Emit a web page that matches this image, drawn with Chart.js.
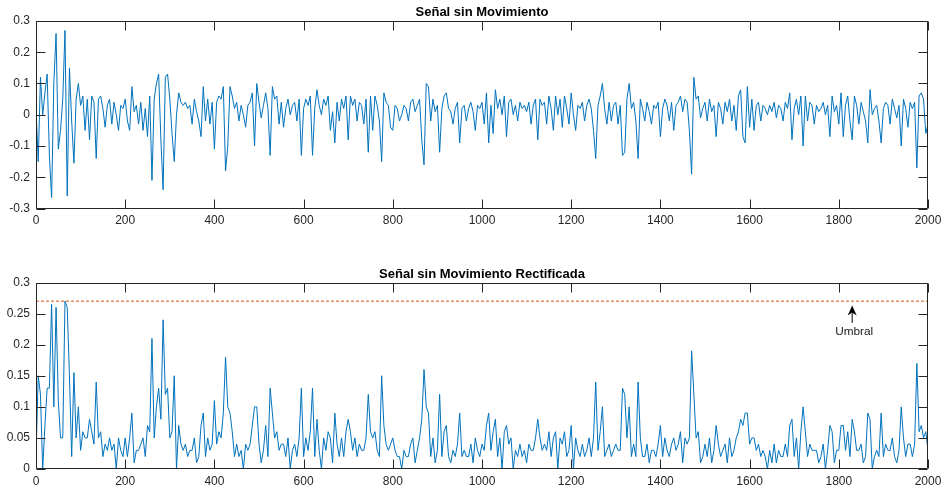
<!DOCTYPE html>
<html>
<head>
<meta charset="utf-8">
<script src="https://cdn.jsdelivr.net/npm/chart.js@4.4.1/dist/chart.umd.min.js"></script>
<style>
  html, body { margin: 0; padding: 0; background: #fff; }
  body { width: 948px; height: 495px; position: relative; overflow: hidden; }
  .panel { position: absolute; left: 0; width: 948px; }
  #arriba { top: 0; height: 234px; }
  #abajo { top: 245px; height: 250px; }
</style>
</head>
<body>
<div class="panel" id="arriba"><canvas id="senalChart"></canvas></div>
<div class="panel" id="abajo"><canvas id="rectChart"></canvas></div>
<script>
// señal, una muestra cada 5 (0..2000)
const paso = 5;
const senal = [
  0.02,-0.15,0.12,0.0,0.07,0.13,-0.13,-0.265,0.10,0.26,-0.11,-0.05,0.05,0.27,-0.26,0.15,-0.02,-0.155,0.05,0.10,
  0.03,0.06,-0.05,0.05,-0.08,0.06,0.04,-0.14,0.05,0.06,0.02,-0.04,0.03,0.05,-0.03,0.04,0.0,-0.05,0.03,0.02,
  0.05,-0.02,-0.05,0.09,0.01,0.03,-0.03,0.04,-0.05,0.02,-0.07,0.06,-0.21,0.05,0.10,0.13,-0.08,-0.24,0.12,0.13,
  0.05,-0.06,-0.15,0.0,0.07,0.04,0.03,0.04,0.02,0.03,-0.03,0.05,0.01,-0.02,-0.07,0.09,-0.02,0.05,-0.03,0.04,
  -0.11,0.04,0.06,0.05,0.09,-0.18,-0.10,0.09,0.06,0.02,0.04,-0.02,0.03,0.0,-0.04,0.03,0.04,0.07,-0.10,0.10,
  0.04,-0.01,0.03,0.07,0.02,-0.13,0.09,0.05,0.06,-0.03,0.04,-0.04,0.02,0.05,0.0,0.03,0.04,-0.02,0.05,-0.13,
  0.02,0.05,0.03,0.06,-0.13,0.02,0.08,0.03,0.0,0.05,0.03,0.06,-0.05,0.01,-0.09,0.04,-0.02,0.05,0.02,0.06,
  -0.08,0.06,0.03,0.05,-0.02,0.04,0.03,-0.03,0.05,-0.12,0.06,-0.05,0.06,0.03,-0.02,-0.15,0.07,0.04,0.03,-0.04,
  -0.05,0.03,0.02,-0.02,0.0,0.03,0.02,-0.02,0.04,0.05,0.01,0.03,0.05,-0.08,-0.16,0.10,0.09,-0.02,0.05,0.01,
  0.03,-0.12,0.02,0.06,0.07,0.02,0.01,-0.03,0.02,0.04,-0.09,0.02,0.03,-0.02,0.02,0.04,0.01,-0.05,0.03,0.02,
  0.04,-0.03,0.07,-0.09,0.03,-0.06,0.08,0.02,0.05,0.0,0.06,-0.07,0.04,0.05,0.0,0.03,-0.02,0.04,0.02,0.03,
  0.01,0.04,-0.03,0.03,0.05,-0.08,0.05,0.03,0.04,-0.03,0.06,0.02,-0.05,0.06,0.0,0.05,-0.04,0.06,0.02,-0.03,
  0.07,0.0,-0.05,0.03,0.02,0.04,-0.02,0.03,0.05,0.02,-0.05,-0.14,0.03,0.06,0.10,0.02,-0.03,0.04,-0.02,0.03,
  0.04,-0.03,0.03,-0.13,-0.12,0.05,0.10,0.02,0.04,-0.02,-0.14,0.05,0.02,-0.02,0.04,0.01,-0.03,0.03,0.02,0.04,
  -0.07,0.02,0.05,0.03,-0.02,0.04,-0.05,0.03,0.04,0.06,0.01,0.05,0.04,-0.05,-0.19,0.12,0.05,0.06,-0.01,0.02,
  0.04,-0.02,0.05,0.01,0.03,-0.07,0.04,0.02,-0.03,0.04,0.01,0.05,-0.02,0.03,-0.05,0.06,0.08,-0.07,-0.09,0.09,
  -0.04,0.05,-0.05,0.03,0.04,-0.02,0.03,0.02,0.0,0.03,0.01,0.04,-0.01,0.03,0.02,-0.02,0.04,0.02,0.07,-0.08,
  0.02,0.05,0.0,0.06,-0.10,0.06,-0.02,0.04,0.03,-0.03,0.03,0.01,0.02,0.04,0.0,0.03,-0.07,0.06,0.01,0.03,
  -0.03,0.07,-0.07,0.03,0.06,-0.02,-0.08,0.06,0.03,-0.03,0.04,0.01,-0.02,-0.09,0.08,0.0,0.02,0.03,-0.02,-0.09,
  0.02,0.04,0.03,-0.03,0.05,0.02,-0.01,0.03,-0.10,0.05,0.02,-0.04,0.04,0.02,0.04,-0.17,0.06,0.07,0.05,-0.06,-0.03
];
const rectificada = senal.map((v) => Math.abs(v));

const xTicks = [0, 200, 400, 600, 800, 1000, 1200, 1400, 1600, 1800, 2000];
const yTicksSenal = [-0.3, -0.2, -0.1, 0, 0.1, 0.2, 0.3];
const yTicksRect = [0, 0.05, 0.1, 0.15, 0.2, 0.25, 0.3];

const umbral = 0.27;
const flechaX = 1830;
const flechaPunta = 0.263;
const flechaBase = 0.235;
const textoY = 0.22;

const AZUL = "#0072BD";
const NARANJA = "#D95319";
const EJE = "#262626";
const FUENTE = "'Liberation Sans', Arial, Helvetica, sans-serif";

// caja tipo MATLAB con marcas hacia adentro, y el título centrado sobre el área
const cajaPlugin = {
  id: "caja",
  afterDatasetsDraw(chart) {
    const { ctx, chartArea: a, scales } = chart;
    const cfg = chart.options.plugins.caja;
    const l = Math.round(a.left) + 0.5, r = Math.round(a.right) - 0.5;
    const t = Math.round(a.top) + 0.5, b = Math.round(a.bottom) - 0.5;
    ctx.save();
    ctx.strokeStyle = EJE;
    ctx.lineWidth = 1;
    ctx.beginPath();
    ctx.rect(l, t, r - l, b - t);
    xTicks.forEach((v) => {
      const x = Math.round(scales.x.getPixelForValue(v)) + 0.5;
      ctx.moveTo(x, b); ctx.lineTo(x, b - 9);
      ctx.moveTo(x, t); ctx.lineTo(x, t + 9);
    });
    cfg.yTicks.forEach((v) => {
      const y = Math.round(scales.y.getPixelForValue(v)) + 0.5;
      ctx.moveTo(l, y); ctx.lineTo(l + 9, y);
      ctx.moveTo(r, y); ctx.lineTo(r - 9, y);
    });
    ctx.stroke();
    ctx.font = "bold 13px " + FUENTE;
    ctx.fillStyle = "#000";
    ctx.textAlign = "center";
    ctx.textBaseline = "middle";
    ctx.fillText(cfg.titulo, (a.left + a.right) / 2, a.top - 8.5);
    ctx.restore();
  },
};

// flecha y texto "Umbral"
const flechaPlugin = {
  id: "flecha",
  afterDatasetsDraw(chart) {
    if (!chart.options.plugins.flecha.mostrar) return;
    const { ctx, scales } = chart;
    const x = scales.x.getPixelForValue(flechaX);
    const yp = scales.y.getPixelForValue(flechaPunta);
    const yb = scales.y.getPixelForValue(flechaBase);
    ctx.save();
    ctx.strokeStyle = "#000";
    ctx.fillStyle = "#000";
    ctx.lineWidth = 1;
    ctx.beginPath();
    ctx.moveTo(x, yb); ctx.lineTo(x, yp + 6);
    ctx.stroke();
    ctx.beginPath();
    ctx.moveTo(x, yp);
    ctx.lineTo(x - 4.5, yp + 10);
    ctx.lineTo(x, yp + 7);
    ctx.lineTo(x + 4.5, yp + 10);
    ctx.closePath();
    ctx.fill();
    ctx.font = "11.8px " + FUENTE;
    ctx.fillStyle = "#222";
    ctx.textAlign = "center";
    ctx.textBaseline = "middle";
    ctx.fillText("Umbral", x + 2, scales.y.getPixelForValue(textoY));
    ctx.restore();
  },
};

function puntos(valores) {
  return valores.map((v, i) => ({ x: i * paso, y: v }));
}

function opciones(titulo, yMin, yMax, yTicks, alturaX, padTop, flecha) {
  return {
    responsive: true,
    maintainAspectRatio: false,
    animation: false,
    layout: { padding: { top: padTop, right: 20, left: 0, bottom: 0 } },
    plugins: {
      legend: { display: false },
      tooltip: { enabled: false },
      title: { display: false },
      caja: { yTicks: yTicks, titulo: titulo },
      flecha: { mostrar: flecha },
    },
    elements: { point: { radius: 0 }, line: { tension: 0 } },
    scales: {
      x: {
        type: "linear",
        min: 0,
        max: 2000,
        afterBuildTicks: (s) => { s.ticks = xTicks.map((v) => ({ value: v })); },
        afterFit: (s) => { s.height = alturaX; },
        grid: { display: true, drawOnChartArea: false, drawTicks: false },
        border: { display: false },
        ticks: {
          color: EJE,
          padding: 5,
          maxRotation: 0,
          font: { family: FUENTE, size: 12 },
          callback: (v) => String(v),
        },
      },
      y: {
        min: yMin,
        max: yMax,
        afterBuildTicks: (s) => { s.ticks = yTicks.map((v) => ({ value: v })); },
        afterFit: (s) => { s.width = 36; },
        grid: { display: true, drawOnChartArea: false, drawTicks: false },
        border: { display: false },
        ticks: {
          color: EJE,
          padding: 6,
          font: { family: FUENTE, size: 12 },
          callback: (v) => String(Number(v.toFixed(2))),
        },
      },
    },
  };
}

new Chart(document.getElementById("senalChart"), {
  type: "line",
  data: {
    datasets: [
      { data: puntos(senal), borderColor: AZUL, borderWidth: 1, fill: false },
    ],
  },
  options: opciones("Señal sin Movimiento", -0.3, 0.3, yTicksSenal, 25.5, 21, false),
  plugins: [cajaPlugin, flechaPlugin],
});

new Chart(document.getElementById("rectChart"), {
  type: "line",
  data: {
    datasets: [
      { data: puntos(rectificada), borderColor: AZUL, borderWidth: 1, fill: false },
      {
        data: [{ x: 0, y: umbral }, { x: 2000, y: umbral }],
        borderColor: NARANJA,
        borderWidth: 1,
        borderDash: [3, 2],
        fill: false,
      },
    ],
  },
  options: opciones("Señal sin Movimiento Rectificada", 0, 0.3, yTicksRect, 26, 37.5, true),
  plugins: [cajaPlugin, flechaPlugin],
});
</script>
</body>
</html>
